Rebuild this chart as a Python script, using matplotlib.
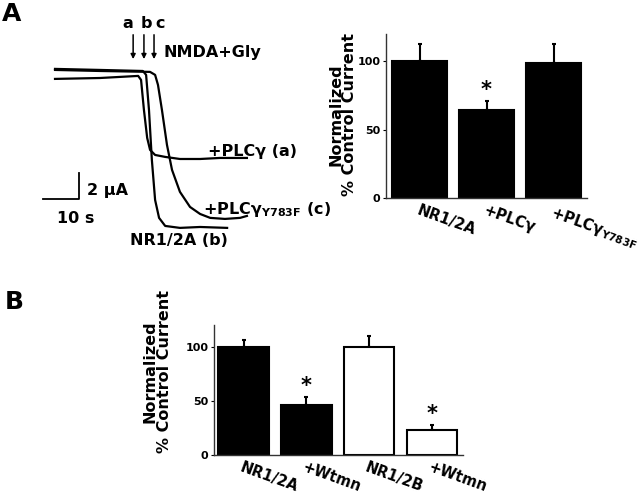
import matplotlib.pyplot as plt

# ---- traces (time in s, current in uA, baseline = 0) ----
t_plc = [0, 12.5, 23.1, 23.9, 24.7, 25.6, 26.4, 27.8, 30.6, 34.7, 40.3, 45.8, 53.3]
i_plc = [-0.69, -0.62, -0.46, -0.77, -3.08, -5.23, -6.15, -6.54, -6.69, -6.85, -6.85, -6.77, -6.77]

t_nr = [0, 12.5, 24.4, 25.3, 26.1, 26.9, 27.8, 28.9, 30.6, 34.7, 40.3, 47.8]
i_nr = [0.08, 0, -0.08, -0.38, -3.08, -6.92, -10.0, -11.38, -12.0, -12.15, -12.08, -12.15]

t_mut = [0, 12.5, 26.4, 27.8, 28.6, 29.7, 31.1, 32.5, 34.7, 37.5, 40.3, 43.1, 47.2, 51.4, 53.3]
i_mut = [0, -0.08, -0.15, -0.38, -1.15, -3.08, -5.77, -7.69, -9.38, -10.54, -11.08, -11.38, -11.46, -11.38, -11.23]

stim_labels = ['a', 'b', 'c']
stim_times = [21.7, 24.7, 27.5]

# ---- bar data ----
cats_a = ['NR1/2A', '+PLCγ', '+PLCγ$_{\\mathbf{Y783F}}$']
vals_a = [100, 64.5, 99]
errs_a = [12.5, 6.5, 14]
sig_a = [False, True, False]

cats_b = ['NR1/2A', '+Wtmn', 'NR1/2B', '+Wtmn']
vals_b = [100, 46, 100, 23]
errs_b = [6.5, 7.5, 10, 5]
sig_b = [False, True, False, True]
fill_b = ['black', 'black', 'white', 'white']

W, H = 640, 495
fig = plt.figure(figsize=(6.4, 4.95), dpi=100)

# ---- trace panel ----
ax = fig.add_axes([0, 1 - 260 / H, 320 / W, 260 / H])
ax.set_xlim(-15.28, 73.6)
ax.set_ylim(-14.62, 5.38)
ax.axis('off')
ax.plot(t_plc, i_plc, color='black', lw=1.6)
ax.plot(t_nr, i_nr, color='black', lw=1.6)
ax.plot(t_mut, i_mut, color='black', lw=1.6)

for lab, t, tx in zip(stim_labels, stim_times, [20.3, 25.4, 29.2]):
    ax.annotate('', xy=(t, 0.62), xytext=(t, 2.92),
                arrowprops=dict(arrowstyle='-|>', color='black', lw=1.1, mutation_scale=7))
    ax.text(tx, 3.6, lab, ha='center', va='center', fontsize=11.5, fontweight='bold')
ax.text(30, 1.38, 'NMDA+Gly', ha='left', va='center', fontsize=11.5, fontweight='bold')

# scale bar: 10 s x 2 uA
ax.plot([-3.33, 6.67, 6.67], [-9.92, -9.92, -7.92], color='black', lw=1.3)
ax.text(8.9, -9.3, '2 µA', ha='left', va='center', fontsize=11.5, fontweight='bold')
ax.text(0.56, -11.4, '10 s', ha='left', va='center', fontsize=11.5, fontweight='bold')

ax.text(42.5, -6.3, '+PLCγ (a)', ha='left', va='center', fontsize=11.5, fontweight='bold')
ax.text(41.1, -10.77, '+PLCγ$_{\\mathbf{Y783F}}$ (c)', ha='left', va='center',
        fontsize=11.5, fontweight='bold', clip_on=False)
ax.text(20.8, -13.1, 'NR1/2A (b)', ha='left', va='center', fontsize=11.5, fontweight='bold')

fig.text(2 / W, 1 - 14 / H, 'A', fontsize=18, fontweight='bold', va='center', ha='left')
fig.text(5 / W, 1 - 302 / H, 'B', fontsize=18, fontweight='bold', va='center', ha='left')


def bar_panel(rect, cats, vals, errs, sig, colors, width, xlim, lab_xy, xfs, xshift):
    a = fig.add_axes(rect)
    xs = list(range(len(cats)))
    a.bar(xs, vals, width=width, color=colors, edgecolor='black', linewidth=1.5, zorder=2)
    a.errorbar(xs, vals, yerr=[[0] * len(errs), errs], fmt='none', ecolor='black',
               elinewidth=1.5, capsize=1.5, capthick=1.5, zorder=1)
    for x, v, e, s in zip(xs, vals, errs, sig):
        if s:
            a.text(x, v + e + 1, '*', ha='center', va='bottom', fontsize=15, fontweight='bold')
    a.set_xlim(*xlim)
    a.set_ylim(0, 120)
    a.set_yticks([0, 50, 100])
    a.set_xticks(xs)
    a.set_xticklabels([])
    # rotated category labels, nudged left of the bar centre
    for x, c in zip(xs, cats):
        a.annotate(c, xy=(x, 0), xycoords=('data', 'axes fraction'),
                   xytext=(xshift * 0.72, -3.6), textcoords='offset points',
                   rotation=-20, ha='left', va='top', fontsize=xfs,
                   fontweight='bold', annotation_clip=False)
    for lbl in a.get_yticklabels():
        lbl.set_fontweight('bold')
    a.tick_params(axis='y', labelsize=8, length=2, pad=2)
    a.tick_params(axis='x', length=0)
    for sp in ['top', 'right']:
        a.spines[sp].set_visible(False)
    for sp in ['left', 'bottom']:
        a.spines[sp].set_linewidth(1.0)
        a.spines[sp].set_color('#333333')
    a.set_ylabel('Normalized\n% Control Current', fontsize=11.5, fontweight='bold',
                 linespacing=0.9)
    a.yaxis.set_label_coords(*lab_xy)
    return a


bar_panel([386 / W, 1 - 198 / H, 201 / W, 164 / H], cats_a, vals_a, errs_a, sig_a,
          'black', 0.82, (-0.5, 2.5), (-0.145, 0.51), 10.7, -5)
bar_panel([214 / W, 1 - 455 / H, 249 / W, 130 / H], cats_b, vals_b, errs_b, sig_b,
          fill_b, 0.8, (-0.47, 3.49), (-0.17, 0.64), 10.5, -6)

fig.savefig('out.png', dpi=100)
